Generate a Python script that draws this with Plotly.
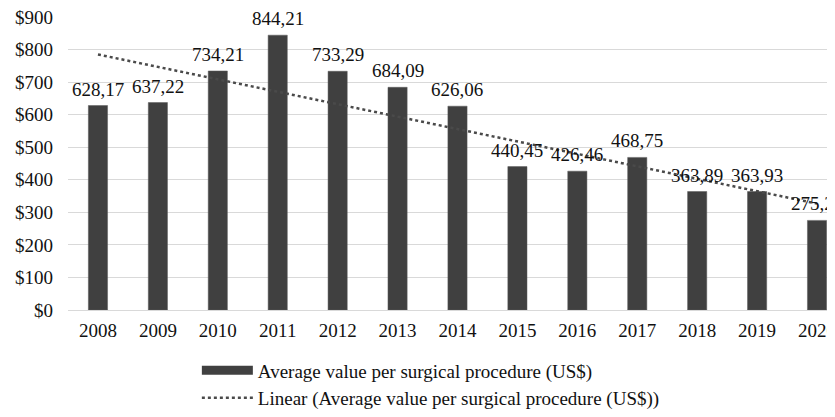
import numpy as np
import plotly.graph_objects as go

years = ["2008", "2009", "2010", "2011", "2012", "2013", "2014",
         "2015", "2016", "2017", "2018", "2019", "2020"]
values = [628.17, 637.22, 734.21, 844.21, 733.29, 684.09, 626.06,
          440.45, 426.46, 468.75, 363.89, 363.93, 275.29]
series_name = "Average value per surgical procedure (US$)"
trend_name = "Linear (Average value per surgical procedure (US$))"

idx = np.arange(len(values))
slope, intercept = np.polyfit(idx, values, 1)
trend = intercept + slope * idx

FONT = "Liberation Serif, Times New Roman, serif"
FS = 19
BAR = "#404040"

fig = go.Figure()
fig.add_trace(go.Bar(
    x=years, y=values, width=0.32,
    marker=dict(color=BAR, line=dict(color="#5a5a5a", width=0.5)),
    showlegend=False, name=series_name,
))
# legend entry for the bars (wide block like the original)
fig.add_trace(go.Scatter(
    x=[None], y=[None], mode="lines", name=series_name,
    line=dict(color=BAR, width=9),
))
fig.add_trace(go.Scatter(
    x=years, y=trend, mode="lines", name=trend_name,
    line=dict(color="#4a4a4a", width=2.5, dash="dot"),
))

for i, v in enumerate(values):
    fig.add_annotation(
        x=i, y=v, xref="x", yref="y", text=f"{v:.2f}".replace(".", ","),
        showarrow=False, yanchor="bottom", yshift=4,
        font=dict(family=FONT, size=FS, color="#111"),
    )

fig.update_layout(
    width=827, height=409,
    margin=dict(l=60, r=0, t=9, b=107, autoexpand=False),
    paper_bgcolor="white", plot_bgcolor="white",
    separators=",.",
    font=dict(family=FONT, size=FS, color="#111"),
    legend=dict(x=0.168, xanchor="left", y=-0.141, yanchor="top",
                orientation="v", itemwidth=51, tracegroupgap=0,
                font=dict(family=FONT, size=FS, color="#111")),
)
fig.update_xaxes(type="category", range=[-0.5, 12.3], showgrid=False,
                 showline=False, ticks="", automargin=False,
                 ticklabeloverflow="allow",
                 ticklabelstandoff=7, tickfont=dict(size=FS))
fig.update_yaxes(range=[0, 900], dtick=100, tickprefix="$",
                 tickformat="d", showgrid=True, gridcolor="#d9d9d9",
                 gridwidth=1.3, zeroline=True, zerolinecolor="#d9d9d9",
                 zerolinewidth=1.3, ticks="", automargin=False,
                 ticklabeloverflow="allow",
                 ticklabelstandoff=14, tickfont=dict(size=FS))

fig.write_html("out.html")
